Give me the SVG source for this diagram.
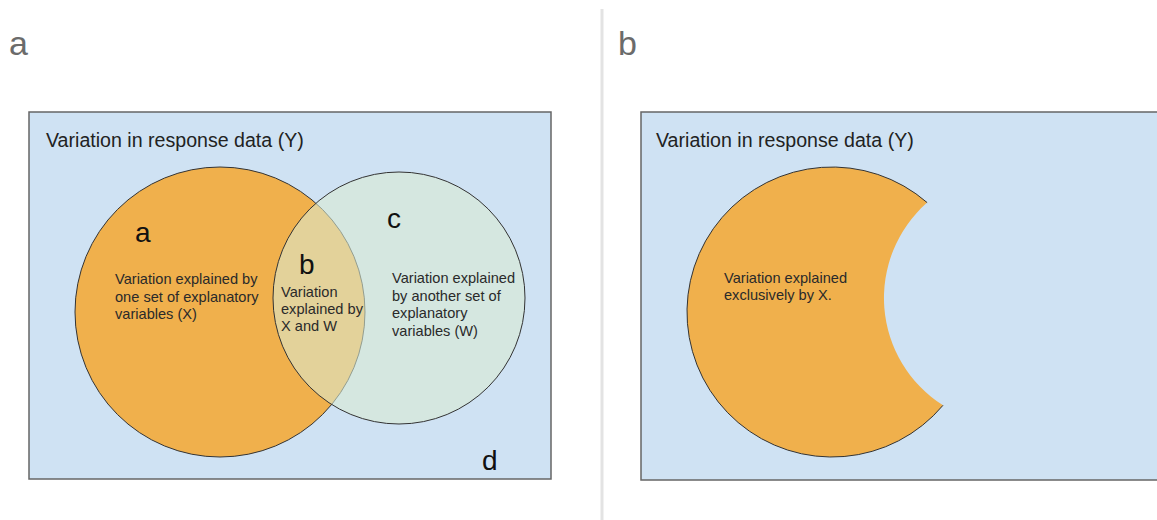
<svg xmlns="http://www.w3.org/2000/svg" width="1157" height="520" viewBox="0 0 1157 520">
<style>
.panel{font-family:"Liberation Sans",Arial,sans-serif;font-size:34px;fill:#6b6b6b}
.box{fill:#cfe2f3;stroke:#666;stroke-width:1.5}
.title{font-family:"Liberation Sans",Arial,sans-serif;font-size:19.6px;fill:#222}
.big{font-family:"Liberation Sans",Arial,sans-serif;font-size:28px;fill:#111}
.small{font-family:"Liberation Sans",Arial,sans-serif;font-size:14.6px;fill:#2a2a2a}
.orange{fill:#f0b04c}
.outline{fill:none;stroke:#333;stroke-width:1}
</style>
<rect width="1157" height="520" fill="#fff"/>
<line x1="602" y1="9" x2="602" y2="520" stroke="#e3e3e3" stroke-width="3"/>

<g id="panel-a">
  <text class="panel" x="9" y="55">a</text>
  <rect class="box" x="29" y="112" width="522" height="367"/>
  <text class="title" x="46" y="147">Variation in response data (Y)</text>
  <g id="circle-x">
    <circle class="orange" cx="220" cy="312" r="145" stroke="#333" stroke-width="1"/>
  </g>
  <g id="circle-w">
    <circle cx="399" cy="298" r="126" fill="#d9ead3" fill-opacity="0.58" stroke="#333" stroke-width="1"/>
  </g>
  <g id="label-a">
    <text class="big" x="135" y="242">a</text>
    <text class="small" x="115" y="284">Variation explained by</text>
    <text class="small" x="115" y="301.5">one set of explanatory</text>
    <text class="small" x="115" y="319">variables (X)</text>
  </g>
  <g id="label-b">
    <text class="big" x="299" y="274">b</text>
    <text class="small" x="281" y="297">Variation</text>
    <text class="small" x="281" y="314">explained by</text>
    <text class="small" x="281" y="331">X and W</text>
  </g>
  <g id="label-c">
    <text class="big" x="387" y="228">c</text>
    <text class="small" x="392" y="283">Variation explained</text>
    <text class="small" x="392" y="300.5">by another set of</text>
    <text class="small" x="392" y="318">explanatory</text>
    <text class="small" x="392" y="335.5">variables (W)</text>
  </g>
  <g id="label-d">
    <text class="big" x="482" y="470">d</text>
  </g>
</g>

<g id="panel-b">
  <text class="panel" x="618" y="55">b</text>
  <rect class="box" x="641" y="112" width="530" height="368"/>
  <text class="title" x="656" y="147">Variation in response data (Y)</text>
  <g id="crescent">
    <path class="orange" d="M927.15 202.6 A145 145 0 1 0 943 405.3 A127 127 0 0 1 927.15 202.6 Z"/>
    <path class="outline" d="M927.15 202.6 A145 145 0 1 0 943 405.3"/>
    <text class="small" x="724" y="283">Variation explained</text>
    <text class="small" x="724" y="300">exclusively by X.</text>
  </g>
</g>
</svg>
